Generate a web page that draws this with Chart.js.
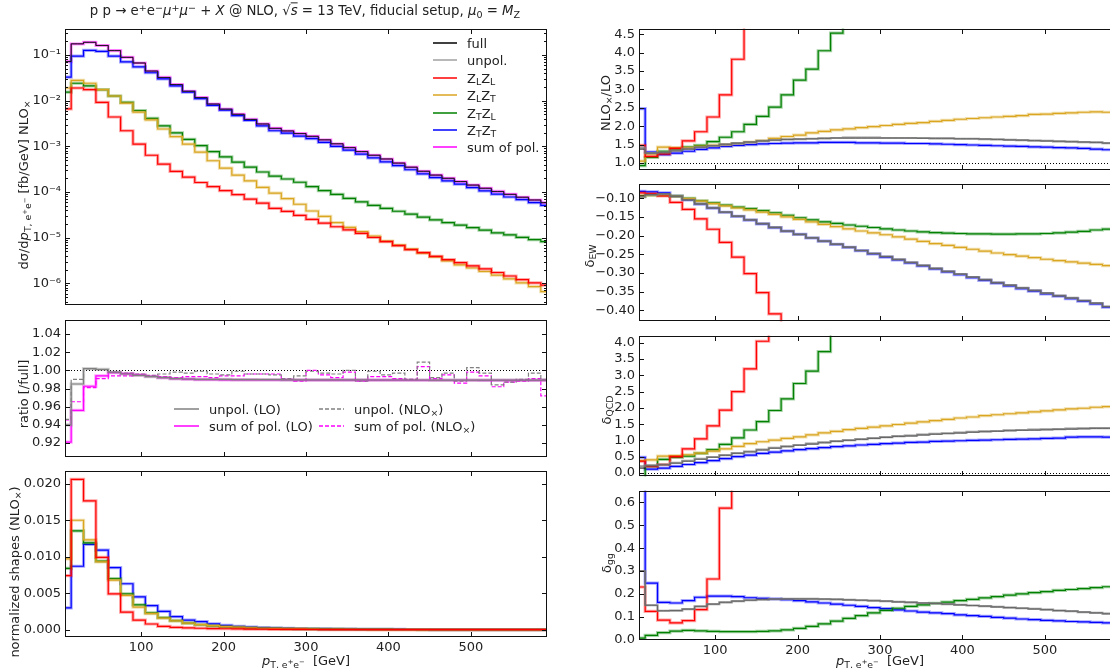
<!DOCTYPE html>
<html>
<head>
<meta charset="utf-8">
<script src="https://cdn.jsdelivr.net/npm/chart.js@4.4.1/dist/chart.umd.min.js"></script>
<style>
  html, body { margin: 0; padding: 0; background: #fff; overflow: hidden; }
  #fig { position: relative; width: 1110px; height: 668px; overflow: hidden;
         font-family: "DejaVu Sans", sans-serif; color: #222; }
  canvas { position: absolute; }
  .t { position: absolute; white-space: nowrap; font-size: 13px; line-height: 1; }
  .rot { transform: translate(-50%, -50%) rotate(-90deg); }
  .ctr { transform: translate(-50%, -50%); }
  sub { font-size: 72%; vertical-align: -0.3em; line-height: 0; }
  sup { font-size: 72%; vertical-align: 0.45em; line-height: 0; }
  .leg { position: absolute; white-space: nowrap; font-size: 13px; line-height: 1; transform: translateY(-50%); }
  .legline { position: absolute; }
</style>
</head>
<body>
<div id="fig"></div>
<script>
// bin centres (15 GeV bins), x axis runs from first to last centre
const binCenters = [7.5,22.5,37.5,52.5,67.5,82.5,97.5,112.5,127.5,142.5,157.5,172.5,187.5,202.5,217.5,232.5,247.5,262.5,277.5,292.5,
  307.5,322.5,337.5,352.5,367.5,382.5,397.5,412.5,427.5,442.5,457.5,472.5,487.5,502.5,517.5,532.5,547.5,562.5,577.5,592.5];
const xTickValues = [100, 200, 300, 400, 500];

// main panel: dsigma/dpT [fb/GeV] at NLOx
const xsSum = [0.072,0.176,0.19,0.162,0.125,0.089,0.067,0.0446,0.0323,0.0226,
  0.0161,0.0117,0.00845,0.00653,0.00505,0.00389,0.0031,0.00248,0.00218,0.00191,
  0.00166,0.00139,0.00114,0.00094,0.00077,0.00064,0.00053,0.00043,0.00035,0.000285,
  0.000235,0.0002,0.00017,0.000142,0.000121,0.000103,0.000089,0.000077,0.000067,0.0000585];
const xsFull = xsSum;   // full and unpol. sit on the sum of pol. at this scale
const xsLL = [0.0066,0.019,0.0175,0.0092,0.0044,0.0022,0.00112,0.00064,0.00041,0.000285,
  0.000213,0.000162,0.000131,0.000108,0.000088,0.00007,0.000057,0.000044,0.0000379,0.0000307,
  0.0000253,0.0000208,0.0000174,0.0000148,0.0000124,0.0000101,0.0000082,0.0000067,0.0000055,0.0000047,
  0.0000039,0.0000033,0.00000286,0.00000243,0.00000207,0.00000173,0.00000145,0.00000121,0.00000103,0.00000092];
const xsLT = [0.019,0.028,0.0241,0.0175,0.0127,0.0089,0.0056,0.0038,0.0024,0.00163,
  0.00112,0.00075,0.000485,0.000335,0.000235,0.000175,0.000127,0.000095,0.000072,0.000054,
  0.0000385,0.0000292,0.0000215,0.0000169,0.0000137,0.0000109,0.0000084,0.0000069,0.0000056,0.0000046,
  0.0000038,0.0000031,0.00000255,0.00000217,0.00000182,0.00000152,0.00000125,0.00000103,0.00000085,0.00000066];
const xsTL = [0.0154,0.0241,0.0212,0.0175,0.0127,0.0092,0.0061,0.0041,0.00282,0.00198,
  0.00143,0.00104,0.00077,0.00059,0.00045,0.00035,0.000275,0.000223,0.000193,0.000164,
  0.000131,0.000108,0.000089,0.000073,0.000061,0.000051,0.000044,0.000038,0.0000327,0.0000283,
  0.0000245,0.0000215,0.0000189,0.0000166,0.0000146,0.0000128,0.0000115,0.0000102,0.0000091,0.0000082];
const xsTT = [0.033,0.095,0.127,0.12,0.095,0.071,0.055,0.041,0.030,0.0212,
  0.0154,0.0111,0.0079,0.0062,0.0047,0.0037,0.0028,0.0022,0.00195,0.00168,
  0.00148,0.00122,0.001,0.00083,0.00068,0.00056,0.00046,0.00038,0.000308,0.00025,
  0.000206,0.000175,0.000149,0.000125,0.000106,0.00009,0.000078,0.000068,0.0000585,0.000051];

// ratio panel [/full]
const ratioUnpolLO = [0.94,0.985,1.002,1.001,0.998,0.996,0.9945,0.993,0.992,0.991,
  0.9905,0.990,0.990,0.990,0.9898,0.9898,0.9897,0.9897,0.9896,0.9896,
  0.9896,0.9895,0.9895,0.9895,0.9895,0.9894,0.9894,0.9894,0.9894,0.9894,
  0.9893,0.9893,0.9893,0.9893,0.9893,0.9893,0.9893,0.9892,0.9892,0.9892];
const ratioSumLO = [0.921,0.956,0.9825,0.994,0.9975,0.9965,0.995,0.9935,0.992,0.991,
  0.9903,0.9898,0.9897,0.9896,0.9895,0.9895,0.9894,0.9894,0.9894,0.9893,
  0.9893,0.9893,0.9893,0.9892,0.9892,0.9892,0.9892,0.9892,0.9891,0.9891,
  0.9891,0.9891,0.9891,0.9891,0.989,0.989,0.989,0.989,0.989,0.989];
const ratioUnpolNLO = [0.946,0.990,1.0017,1.0007,0.998,0.997,0.996,0.9945,0.996,0.998,
  0.997,0.999,0.996,0.995,0.999,0.996,0.996,0.995,0.991,0.994,
  0.999,0.997,0.996,1.000,0.988,0.999,0.995,0.997,0.990,1.009,
  0.992,0.997,0.988,1.003,0.997,0.984,0.987,0.990,0.997,0.990];
const ratioSumNLO = [0.9456,0.9655,0.981,0.991,0.994,0.994,0.9945,0.9935,0.993,0.992,
  0.993,0.993,0.992,0.994,0.994,0.996,0.996,0.996,0.990,0.988,
  1.000,0.995,0.992,0.998,0.988,0.993,0.993,0.991,0.990,1.004,
  0.991,0.995,0.986,0.998,0.994,0.982,0.987,0.988,0.991,0.972];

// normalized shapes (NLOx)
const shapeLL = [0.0074,0.0206,0.01765,0.0099,0.0049,0.0024,0.0013,0.00078,0.00046,0.00033,
  0.00025,0.0002,0.00016,0.00013,0.0001,0.00008,0.000065,0.00005,0.00004,0.000033,
  0.000027,0.000022,0.000018,0.000016,0.000013,0.000011,0.000009,0.000007,0.000006,0.000005,
  0.000004,0.0000035,0.000003,0.0000026,0.0000022,0.0000018,0.0000015,0.0000013,0.0000011,0.000001];
const shapeLT = [0.0097,0.0150,0.0123,0.0093,0.0068,0.0047,0.0031,0.0022,0.0016,0.0012,
  0.0009,0.0007,0.00055,0.00043,0.00034,0.00027,0.0002,0.00016,0.00012,0.0001,
  0.00008,0.00006,0.000045,0.000035,0.000028,0.000022,0.000018,0.000014,0.000011,0.000009,
  0.000007,0.000006,0.000005,0.000004,0.0000035,0.000003,0.0000025,0.000002,0.0000017,0.0000014];
const shapeTL = [0.0084,0.01355,0.0119,0.0094,0.007,0.0049,0.0034,0.0023,0.00165,0.00125,
  0.0009,0.00068,0.00052,0.0004,0.00032,0.00026,0.0002,0.00017,0.00014,0.00012,
  0.0001,0.00008,0.00007,0.00006,0.00005,0.000042,0.000036,0.000031,0.000027,0.000023,
  0.00002,0.000018,0.000016,0.000014,0.000012,0.000011,0.00001,0.000009,0.000008,0.000007];
const shapeTT = [0.003,0.0087,0.0117,0.0109,0.0085,0.0063,0.0045,0.0033,0.0025,0.0018,
  0.0013,0.0011,0.0008,0.0006,0.00046,0.00036,0.00029,0.00023,0.00019,0.00015,
  0.00013,0.00011,0.00009,0.000075,0.000063,0.000052,0.000043,0.000036,0.00003,0.000025,
  0.000021,0.000018,0.000015,0.000013,0.000011,0.0000095,0.000008,0.000007,0.000006,0.0000052];

// NLOx / LO
const kFull = [1.38,1.27,1.28,1.33,1.38,1.43,1.47,1.51,1.54,1.57,
  1.6,1.62,1.64,1.65,1.66,1.67,1.68,1.68,1.68,1.68,
  1.68,1.68,1.68,1.67,1.67,1.67,1.66,1.66,1.65,1.64,
  1.63,1.62,1.61,1.6,1.59,1.58,1.57,1.56,1.54,1.52];
const kUnpol = [1.42,1.27,1.29,1.34,1.39,1.43,1.47,1.51,1.54,1.57,
  1.6,1.62,1.64,1.65,1.66,1.67,1.68,1.69,1.69,1.69,
  1.68,1.68,1.68,1.68,1.67,1.67,1.66,1.66,1.65,1.64,
  1.63,1.62,1.61,1.6,1.59,1.58,1.57,1.56,1.54,1.52];
const kLL = [1.48,1.18,1.25,1.4,1.6,1.85,2.25,2.85,3.82,5.0,
  null,null,null,null,null,null,null,null,null,null,
  null,null,null,null,null,null,null,null,null,null,
  null,null,null,null,null,null,null,null,null,null];
const kLT = [1.05,1.25,1.43,1.42,1.42,1.45,1.48,1.5,1.53,1.57,
  1.61,1.67,1.72,1.76,1.82,1.86,1.9,1.93,1.96,1.99,
  2.02,2.05,2.08,2.1,2.13,2.16,2.19,2.21,2.23,2.25,
  2.27,2.29,2.32,2.33,2.35,2.36,2.38,2.39,2.38,2.37];
const kTL = [0.93,1.15,1.32,1.38,1.43,1.48,1.58,1.7,1.85,2.05,
  2.27,2.52,2.85,3.25,3.55,4.05,4.53,5.1,null,null,
  null,null,null,null,null,null,null,null,null,null,
  null,null,null,null,null,null,null,null,null,null];
const kTT = [2.48,1.3,1.23,1.27,1.32,1.37,1.41,1.45,1.48,1.5,
  1.52,1.53,1.54,1.55,1.55,1.56,1.56,1.56,1.55,1.55,
  1.54,1.54,1.53,1.53,1.52,1.51,1.5,1.49,1.48,1.47,
  1.46,1.45,1.44,1.43,1.42,1.41,1.4,1.38,1.36,1.34];

// delta_EW
const ewFull = [-0.094,-0.090,-0.088,-0.095,-0.104,-0.115,-0.126,-0.137,-0.148,-0.158,
  -0.168,-0.178,-0.188,-0.197,-0.206,-0.215,-0.223,-0.231,-0.24,-0.248,
  -0.256,-0.264,-0.272,-0.28,-0.288,-0.296,-0.303,-0.311,-0.318,-0.326,
  -0.333,-0.34,-0.347,-0.354,-0.361,-0.367,-0.374,-0.381,-0.39,-0.399];
const ewUnpol = [-0.097,-0.091,-0.089,-0.095,-0.104,-0.115,-0.126,-0.137,-0.148,-0.158,
  -0.168,-0.178,-0.188,-0.197,-0.206,-0.215,-0.223,-0.231,-0.24,-0.248,
  -0.256,-0.264,-0.272,-0.28,-0.288,-0.296,-0.303,-0.311,-0.318,-0.326,
  -0.333,-0.34,-0.347,-0.354,-0.361,-0.367,-0.374,-0.381,-0.39,-0.399];
const ewLL = [-0.0857,-0.0874,-0.094,-0.111,-0.13,-0.155,-0.183,-0.218,-0.258,-0.302,
  -0.353,-0.41,-0.48,null,null,null,null,null,null,null,
  null,null,null,null,null,null,null,null,null,null,
  null,null,null,null,null,null,null,null,null,null];
const ewLT = [-0.0941,-0.0916,-0.0916,-0.0949,-0.1008,-0.1076,-0.1143,-0.1202,-0.1261,-0.1312,
  -0.1371,-0.143,-0.1497,-0.1565,-0.1632,-0.17,-0.1759,-0.1818,-0.1877,-0.1927,
  -0.1978,-0.2037,-0.2096,-0.2155,-0.2214,-0.2265,-0.2315,-0.2366,-0.2416,-0.2467,
  -0.2509,-0.2551,-0.2593,-0.2635,-0.2669,-0.2703,-0.2737,-0.277,-0.2804,-0.2855];
const ewTL = [-0.0941,-0.0916,-0.0916,-0.0941,-0.1,-0.1067,-0.1126,-0.1185,-0.1236,-0.1278,
  -0.1329,-0.1388,-0.1455,-0.1523,-0.1582,-0.1632,-0.1674,-0.1717,-0.175,-0.1784,
  -0.1818,-0.1851,-0.1877,-0.1902,-0.1919,-0.1936,-0.1944,-0.1953,-0.1953,-0.1961,
  -0.1961,-0.1953,-0.1953,-0.1944,-0.1927,-0.191,-0.1885,-0.1851,-0.1826,-0.1809];
const ewTT = [-0.0815,-0.083,-0.0857,-0.094,-0.1045,-0.1155,-0.1265,-0.1375,-0.1485,-0.1585,
  -0.1685,-0.1785,-0.188,-0.197,-0.2065,-0.215,-0.2235,-0.2315,-0.2405,-0.249,
  -0.2575,-0.2655,-0.2735,-0.2815,-0.2895,-0.2975,-0.305,-0.3125,-0.32,-0.3275,
  -0.335,-0.342,-0.349,-0.356,-0.3625,-0.369,-0.376,-0.383,-0.392,-0.402];

// delta_QCD
const qcdFull = [0.15,0.22,0.25,0.3,0.36,0.42,0.48,0.54,0.6,0.65,
  0.71,0.76,0.81,0.85,0.89,0.93,0.97,1.0,1.03,1.06,
  1.09,1.12,1.14,1.17,1.19,1.21,1.23,1.25,1.27,1.28,
  1.3,1.31,1.32,1.33,1.34,1.35,1.36,1.37,1.37,1.36];
const qcdUnpol = [0.2,0.23,0.26,0.31,0.37,0.43,0.49,0.55,0.61,0.66,
  0.72,0.77,0.82,0.86,0.9,0.94,0.98,1.01,1.04,1.07,
  1.1,1.13,1.15,1.18,1.2,1.22,1.24,1.26,1.28,1.29,
  1.31,1.32,1.33,1.34,1.35,1.36,1.37,1.38,1.38,1.37];
const qcdLL = [0.36,0.2,0.26,0.5,0.74,1.05,1.45,1.93,2.5,3.2,
  4.05,5.0,null,null,null,null,null,null,null,null,
  null,null,null,null,null,null,null,null,null,null,
  null,null,null,null,null,null,null,null,null,null];
const qcdLT = [0.38,0.4,0.52,0.53,0.56,0.61,0.67,0.74,0.82,0.9,
  0.96,1.01,1.06,1.11,1.17,1.23,1.28,1.33,1.37,1.41,
  1.45,1.49,1.53,1.57,1.61,1.65,1.69,1.72,1.76,1.79,
  1.82,1.85,1.88,1.91,1.94,1.97,1.99,2.02,2.04,2.0];
const qcdTL = [-0.15,0.2,0.42,0.48,0.52,0.6,0.72,0.88,1.08,1.32,
  1.58,1.92,2.28,2.75,3.13,3.73,4.5,null,null,null,
  null,null,null,null,null,null,null,null,null,null,
  null,null,null,null,null,null,null,null,null,null];
const qcdTT = [0.48,0.12,0.15,0.2,0.26,0.32,0.38,0.44,0.5,0.55,
  0.6,0.64,0.68,0.72,0.75,0.78,0.81,0.83,0.86,0.88,
  0.9,0.92,0.94,0.95,0.97,0.98,0.99,1.0,1.01,1.02,
  1.03,1.04,1.05,1.06,1.07,1.1,1.11,1.11,1.1,1.09];

// delta_gg
const ggFull = [0.3,0.15,0.126,0.127,0.133,0.145,0.155,0.163,0.168,0.172,
  0.175,0.177,0.178,0.178,0.178,0.177,0.176,0.174,0.172,0.17,
  0.168,0.165,0.163,0.16,0.158,0.155,0.152,0.149,0.146,0.143,
  0.14,0.137,0.134,0.131,0.127,0.124,0.12,0.117,0.113,0.108];
const ggLL = [0.23,0.123,0.085,0.073,0.083,0.131,0.265,0.575,0.9,null,
  null,null,null,null,null,null,null,null,null,null,
  null,null,null,null,null,null,null,null,null,null,
  null,null,null,null,null,null,null,null,null,null];
const ggTL = [0.006,0.018,0.03,0.037,0.04,0.038,0.036,0.035,0.035,0.035,
  0.036,0.038,0.042,0.049,0.058,0.069,0.081,0.093,0.105,0.117,
  0.128,0.137,0.145,0.152,0.158,0.164,0.17,0.176,0.182,0.188,
  0.194,0.2,0.205,0.21,0.215,0.219,0.223,0.227,0.231,0.235];
const ggTT = [0.9,0.247,0.163,0.16,0.17,0.185,0.19,0.19,0.188,0.183,
  0.18,0.178,0.175,0.17,0.165,0.16,0.155,0.15,0.145,0.14,
  0.135,0.13,0.125,0.12,0.117,0.113,0.108,0.105,0.101,0.097,
  0.094,0.09,0.087,0.084,0.082,0.079,0.077,0.075,0.073,0.072];

const COL = { red: '#ff0000', orange: '#daa520', green: '#008000', blue: '#0000ff',
              magenta: '#ff00ff', gray: '#808080', black: '#000000' };
const FONT = { family: 'DejaVu Sans', size: 13 };
const TXT = '#222';

function rgba(hex, a) {
  const n = parseInt(hex.slice(1), 16);
  return `rgba(${n >> 16},${(n >> 8) & 255},${n & 255},${a})`;
}
function pts(arr) { return binCenters.map((x, i) => ({ x, y: arr[i] })); }
function ds(arr, color, width, dash) {
  return { data: pts(arr), borderColor: color, borderWidth: width, borderDash: dash || [],
           stepped: 'middle', pointRadius: 0, fill: false, spanGaps: false };
}
// a histogram line with the light halo seen in the picture
function hist(arr, color, dash, w) {
  return [ds(arr, rgba(color, 0.35), 3.2, dash), ds(arr, color, w || 1.2, dash)];
}

const supMap = { '-': '⁻', '0': '⁰', '1': '¹', '2': '²', '3': '³', '4': '⁴', '5': '⁵', '6': '⁶', '7': '⁷', '8': '⁸', '9': '⁹' };
function logLabel(v) {
  const e = Math.round(Math.log10(v));
  return '10' + String(e).split('').map(c => supMap[c]).join('');
}
const minus = s => s.replace('-', '−');

const frameTicks = {
  id: 'frameTicks',
  beforeDatasetsDraw(chart, args, o) {
    if (o.ref === undefined) return;
    const { ctx, chartArea: a, scales } = chart;
    const y = Math.round(scales.y.getPixelForValue(o.ref)) + 0.5;
    ctx.save();
    ctx.strokeStyle = '#000'; ctx.lineWidth = 1; ctx.setLineDash([1, 2]);
    ctx.beginPath(); ctx.moveTo(a.left, y); ctx.lineTo(a.right, y); ctx.stroke();
    ctx.restore();
  },
  afterDatasetsDraw(chart, args, o) {
    const { ctx, chartArea: a, scales } = chart;
    const L = Math.round(a.left) + 0.5, R = Math.round(a.right) - 0.5;
    const T = Math.round(a.top) + 0.5, B = Math.round(a.bottom) - 0.5;
    ctx.save();
    ctx.strokeStyle = '#111'; ctx.lineWidth = 1; ctx.setLineDash([]);
    ctx.strokeRect(L, T, R - L, B - T);
    ctx.beginPath();
    for (const v of xTickValues) {
      const x = Math.round(scales.x.getPixelForValue(v)) + 0.5;
      ctx.moveTo(x, B); ctx.lineTo(x, B - 4.5);
      ctx.moveTo(x, T); ctx.lineTo(x, T + 4.5);
    }
    const yTick = (v, len) => {
      const y = Math.round(scales.y.getPixelForValue(v)) + 0.5;
      if (y < T || y > B) return;
      ctx.moveTo(L, y); ctx.lineTo(L + len, y);
      ctx.moveTo(R, y); ctx.lineTo(R - len, y);
    };
    for (const v of o.yt) yTick(v, 4.5);
    for (const v of (o.ym || [])) yTick(v, 2.5);
    ctx.stroke();
    ctx.restore();
  }
};

const fig = document.getElementById('fig');

function panel(p) {
  const cx = p.left ? 0 : 570;
  const cy = p.t - 8;
  const bottomExtra = p.xLabels ? 24 : 5;
  const cw = p.r + 5 - cx;
  const ch = p.b + bottomExtra - cy;
  const cv = document.createElement('canvas');
  cv.width = cw; cv.height = ch;
  cv.style.left = cx + 'px'; cv.style.top = cy + 'px';
  fig.appendChild(cv);
  new Chart(cv, {
    type: 'line',
    data: { datasets: p.datasets },
    plugins: [frameTicks],
    options: {
      responsive: false, animation: false, devicePixelRatio: 1, events: [],
      layout: { padding: { left: 0, top: p.t - cy, right: cw - (p.r - cx), bottom: 0 } },
      plugins: { legend: { display: false }, tooltip: { enabled: false },
                 frameTicks: { yt: p.yTicks, ym: p.yMinor, ref: p.ref } },
      scales: {
        x: {
          type: 'linear', min: 7.5, max: 592.5,
          grid: { display: false, drawTicks: false }, border: { display: false },
          ticks: { display: !!p.xLabels, padding: 3, font: FONT, color: TXT, autoSkip: false, maxRotation: 0,
                   callback: v => String(v) },
          afterBuildTicks: s => { s.ticks = xTickValues.map(v => ({ value: v })); },
          afterFit: s => { s.height = ch - (p.b - cy); }
        },
        y: {
          type: p.log ? 'logarithmic' : 'linear', min: p.yMin, max: p.yMax, position: 'left',
          grid: { display: false, drawTicks: false }, border: { display: false },
          ticks: { padding: 4, font: FONT, color: TXT, autoSkip: false, callback: p.fmt },
          afterBuildTicks: s => { s.ticks = p.yTicks.map(v => ({ value: v })); },
          afterFit: s => { s.width = p.l - cx; }
        }
      }
    }
  });
}

const logMinor = [];
for (let e = -7; e <= -1; e++) for (let m = 2; m <= 9; m++) logMinor.push(m * Math.pow(10, e));

// left column
panel({ left: true, l: 65, r: 547, t: 25, b: 312, log: true, yMin: 3.33e-7, yMax: 0.3756,
  yTicks: [1e-6, 1e-5, 1e-4, 1e-3, 1e-2, 1e-1], yMinor: logMinor, fmt: logLabel,
  datasets: [ds(xsFull, COL.black, 0.8), ds(xsFull, COL.gray, 0.8),
    ...hist(xsLL, COL.red), ...hist(xsLT, COL.orange), ...hist(xsTL, COL.green),
    ...hist(xsTT, COL.blue), ...hist(xsSum, COL.magenta, null, 1.5)] });

panel({ left: true, l: 65, r: 547, t: 316, b: 464, yMin: 0.9045, yMax: 1.0556, ref: 1.0,
  yTicks: [0.92, 0.94, 0.96, 0.98, 1.00, 1.02, 1.04], fmt: v => v.toFixed(2),
  datasets: [...hist(ratioUnpolLO, COL.gray), ...hist(ratioSumLO, COL.magenta),
    ds(ratioUnpolNLO, COL.gray, 1.2, [4, 2]), ds(ratioSumNLO, COL.magenta, 1.2, [4, 2])] });

panel({ left: true, l: 65, r: 547, t: 467, b: 637, yMin: -0.001, yMax: 0.02178, xLabels: true,
  yTicks: [0, 0.005, 0.01, 0.015, 0.02], fmt: v => v.toFixed(3),
  datasets: [...hist(shapeLL, COL.red), ...hist(shapeLT, COL.orange),
    ...hist(shapeTL, COL.green), ...hist(shapeTT, COL.blue)] });

// right column
panel({ left: false, l: 639, r: 1121, t: 25, b: 177, yMin: 0.805, yMax: 4.647, ref: 1.0,
  yTicks: [1, 1.5, 2, 2.5, 3, 3.5, 4, 4.5], fmt: v => v.toFixed(1),
  datasets: [ds(kUnpol, rgba(COL.gray, 0.8), 2.2), ds(kFull, COL.black, 1),
    ...hist(kLL, COL.red), ...hist(kLT, COL.orange), ...hist(kTL, COL.green), ...hist(kTT, COL.blue)] });

panel({ left: false, l: 639, r: 1121, t: 180, b: 328, yMin: -0.4294, yMax: -0.0613,
  yTicks: [-0.4, -0.35, -0.3, -0.25, -0.2, -0.15, -0.1], fmt: v => minus(v.toFixed(2)),
  datasets: [ds(ewUnpol, rgba(COL.gray, 0.8), 2.2), ds(ewFull, COL.black, 1),
    ...hist(ewLL, COL.red), ...hist(ewLT, COL.orange), ...hist(ewTL, COL.green), ...hist(ewTT, COL.blue)] });

panel({ left: false, l: 639, r: 1121, t: 332, b: 483, yMin: -0.1, yMax: 4.217, ref: 0.0,
  yTicks: [0, 0.5, 1, 1.5, 2, 2.5, 3, 3.5, 4], fmt: v => v.toFixed(1),
  datasets: [ds(qcdUnpol, rgba(COL.gray, 0.8), 2.2), ds(qcdFull, COL.black, 1),
    ...hist(qcdLL, COL.red), ...hist(qcdLT, COL.orange), ...hist(qcdTL, COL.green), ...hist(qcdTT, COL.blue)] });

panel({ left: false, l: 639, r: 1121, t: 487, b: 640, yMin: -0.002, yMax: 0.651, xLabels: true,
  yTicks: [0, 0.1, 0.2, 0.3, 0.4, 0.5, 0.6], fmt: v => v.toFixed(1),
  datasets: [ds(ggFull, rgba(COL.gray, 0.8), 2.2), ds(ggFull, COL.black, 1),
    ...hist(ggLL, COL.red), ...hist(ggTL, COL.green), ...hist(ggTT, COL.blue)] });

// texts
function text(html, x, y, cls, extra) {
  const d = document.createElement('div');
  d.className = 't ' + cls;
  d.style.left = x + 'px'; d.style.top = y + 'px';
  if (extra) d.style.cssText += extra;
  d.innerHTML = html;
  fig.appendChild(d);
}
const ptLabel = '<i>p</i><sub>T, e<sup>+</sup>e<sup>−</sup></sub>&nbsp; [GeV]';

text('p p → e<sup>+</sup>e<sup>−</sup><i>μ</i><sup>+</sup><i>μ</i><sup>−</sup> + <i>X</i> @ NLO, √<span style="text-decoration:overline"><i>s</i></span> = 13 TeV, fiducial setup, <i>μ</i><sub>0</sub> = <i>M</i><sub>Z</sub>',
  305, 11, 'ctr', 'font-size:13.3px');
text('dσ/d<i>p</i><sub>T, e<sup>+</sup>e<sup>−</sup></sub> [fb/GeV] NLO<sub>×</sub>', 23, 185, 'rot');
text('ratio [/full]', 23, 394, 'rot');
text('normalized shapes (NLO<sub>×</sub>)', 14, 572, 'rot');
text(ptLabel, 306, 660, 'ctr');
text('NLO<sub>×</sub>/LO', 605, 103, 'rot');
text('δ<sub>EW</sub>', 589, 256, 'rot');
text('δ<sub>QCD</sub>', 606, 410, 'rot');
text('δ<sub>gg</sub>', 606, 563, 'rot');
text(ptLabel, 880, 660, 'ctr');

// legends
function legend(x, y, len, color, label, dash) {
  const s = document.createElementNS('http://www.w3.org/2000/svg', 'svg');
  s.setAttribute('width', len); s.setAttribute('height', 4);
  s.setAttribute('class', 'legline');
  s.style.left = x + 'px'; s.style.top = (y - 2) + 'px';
  s.innerHTML = `<line x1="0" y1="2" x2="${len}" y2="2" stroke="${color}" stroke-width="1.5"` +
    (dash ? ' stroke-dasharray="4 2"' : '') + '/>';
  fig.appendChild(s);
  const d = document.createElement('div');
  d.className = 'leg';
  d.style.left = (x + len + 10) + 'px'; d.style.top = y + 'px';
  d.innerHTML = label;
  fig.appendChild(d);
}
const mainLegend = [
  ['full', COL.black], ['unpol.', '#a0a0a0'],
  ['Z<sub>L</sub>Z<sub>L</sub>', COL.red], ['Z<sub>L</sub>Z<sub>T</sub>', COL.orange],
  ['Z<sub>T</sub>Z<sub>L</sub>', COL.green], ['Z<sub>T</sub>Z<sub>T</sub>', COL.blue],
  ['sum of pol.', COL.magenta]
];
mainLegend.forEach((e, i) => legend(433, 43 + i * 17.4, 24, e[1], e[0]));
legend(174, 409, 25, COL.gray, 'unpol. (LO)');
legend(174, 426, 25, COL.magenta, 'sum of pol. (LO)');
legend(319, 409, 25, COL.gray, 'unpol. (NLO<sub>×</sub>)', true);
legend(319, 426, 25, COL.magenta, 'sum of pol. (NLO<sub>×</sub>)', true);
</script>
</body>
</html>
